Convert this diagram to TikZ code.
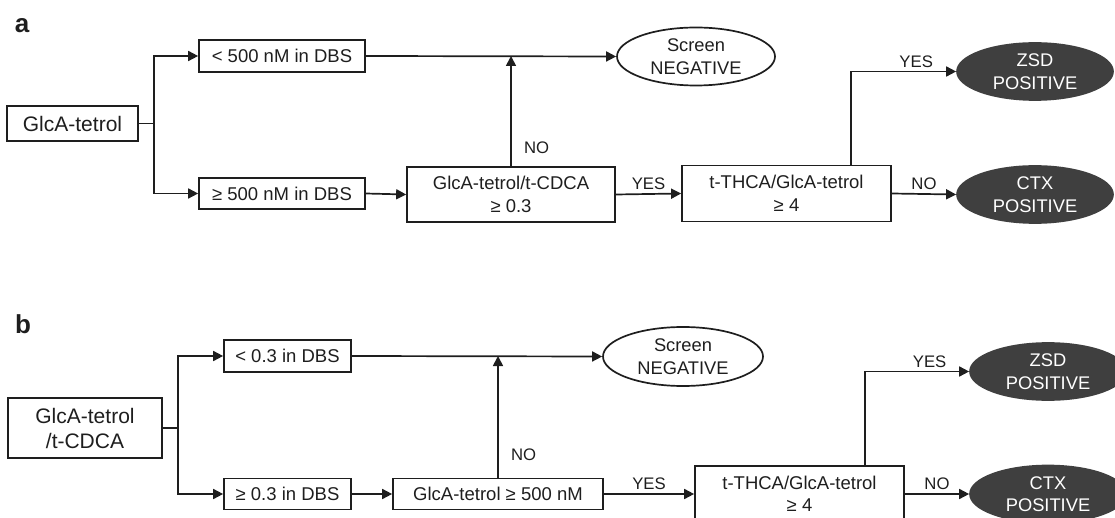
\documentclass[tikz,border=0pt]{standalone}
\usepackage{fontspec}
\setmainfont{Liberation Sans}
\usetikzlibrary{arrows.meta,shapes.geometric}
\definecolor{ink}{HTML}{1E1E1E}
\definecolor{darkfill}{HTML}{3F3F3F}
\begin{document}
\begin{tikzpicture}[x=1pt,y=-1pt, line width=1.7pt, color=ink,
  box/.style={draw=ink, rectangle, inner sep=0pt, align=center, text=ink,
    font=\fontsize{18.5}{22.5}\selectfont},
  startbox/.style={box, font=\fontsize{21}{25}\selectfont},
  negell/.style={draw=ink, ellipse, inner sep=0pt, align=center, text=ink,
    minimum width=158pt, minimum height=58pt, font=\fontsize{18.3}{22.5}\selectfont},
  posell/.style={fill=darkfill, draw=darkfill, ellipse, inner sep=0pt, align=center, text=white,
    minimum width=156pt, minimum height=57pt, font=\fontsize{18.3}{22.5}\selectfont},
  arr/.style={-{Triangle[length=10pt,width=10pt]}},
  lbl/.style={text=ink, font=\fontsize{16.7}{20}\selectfont},
  panel/.style={text=ink, font=\fontsize{26}{30}\selectfont\bfseries}]
\useasboundingbox (0,0) rectangle (1115,518);
\clip (0,0) rectangle (1115,518);

% ---------- panel a ----------
\node[panel] (pa) at (22,26) {a};
\node[startbox, minimum width=131pt, minimum height=35pt] (sa) at (72.5,123.5) {GlcA-tetrol};
\coordinate (ja) at (154,123.5);
\node[box, minimum width=166pt, minimum height=32pt] (a1) at (282,56) {< 500 nM in DBS};
\node[box, minimum width=166pt, minimum height=31pt] (a2) at (282,193.5) {≥ 500 nM in DBS};
\node[negell] (na) at (696,56.5) {Screen\\NEGATIVE};
\node[box, minimum width=208pt, minimum height=55pt] (ra) at (511,194.5) {GlcA-tetrol/t-CDCA\\≥ 0.3};
\node[box, minimum width=209pt, minimum height=56pt] (ta) at (786.5,193.5) {t-THCA/GlcA-tetrol\\≥ 4};
\node[posell] (za) at (1035,71.5) {ZSD\\POSITIVE};
\node[posell] (ca) at (1035,194.5) {CTX\\POSITIVE};

\draw (sa.east) -- (ja);
\draw[arr] (ja) |- (a1.west);
\draw[arr] (ja) |- (a2.west);
\draw[arr] (a1.east) -- (na.west);
\draw[arr] (a2.east) -- (ra.west);
\draw[arr] (ra.north) -- (ra.north |- a1.east) node[lbl, pos=0.17, right=9pt] {NO};
\draw[arr] (ra.east) -- (ta.west) node[lbl, midway, above] {YES};
\draw[arr] ([xshift=64.5pt]ta.north) |- (za.west) node[lbl, pos=0.81, above] {YES};
\draw[arr] (ta.east) -- (ca.west) node[lbl, midway, above] {NO};

% ---------- panel b ----------
\node[panel] (pb) at (23,324) {b};
\node[startbox, minimum width=154pt, minimum height=60pt] (sb) at (85,428) {GlcA-tetrol\\/t-CDCA};
\coordinate (jb) at (178,428);
\node[box, minimum width=127pt, minimum height=32pt] (b1) at (287.5,356) {< 0.3 in DBS};
\node[box, minimum width=127pt, minimum height=31pt] (b2) at (287.5,494) {≥ 0.3 in DBS};
\node[negell, minimum width=160pt, minimum height=59pt] (nb) at (683,356.5) {Screen\\NEGATIVE};
\node[box, minimum width=210pt, minimum height=31pt] (rb) at (498,494) {GlcA-tetrol ≥ 500 nM};
\node[box, minimum width=209pt, minimum height=56pt] (tb) at (799.5,494) {t-THCA/GlcA-tetrol\\≥ 4};
\node[posell] (zb) at (1048,371.5) {ZSD\\POSITIVE};
\node[posell] (cb) at (1048,494) {CTX\\POSITIVE};

\draw (sb.east) -- (jb);
\draw[arr] (jb) |- (b1.west);
\draw[arr] (jb) |- (b2.west);
\draw[arr] (b1.east) -- (nb.west);
\draw[arr] (b2.east) -- (rb.west);
\draw[arr] (rb.north) -- (rb.north |- b1.east) node[lbl, pos=0.19, right=9pt] {NO};
\draw[arr] (rb.east) -- (tb.west) node[lbl, midway, above] {YES};
\draw[arr] ([xshift=65.5pt]tb.north) |- (zb.west) node[lbl, pos=0.81, above] {YES};
\draw[arr] (tb.east) -- (cb.west) node[lbl, midway, above] {NO};
\end{tikzpicture}
\end{document}
